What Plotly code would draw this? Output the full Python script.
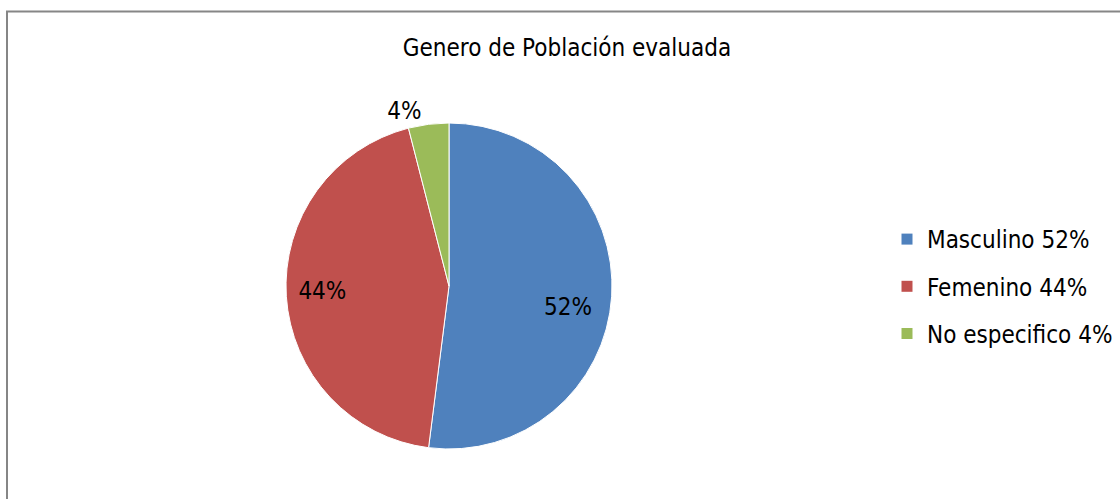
import plotly.graph_objects as go

categories = ["Masculino", "Femenino", "No especifico"]
values = [52, 44, 4]
legend_labels = ["Masculino 52%", "Femenino 44%", "No especifico 4%"]
colors = ["#4F81BD", "#C0504D", "#9BBB59"]

W, H = 1120, 499
FONT = "Liberation Sans Narrow, Arial Narrow, DejaVu Sans Condensed, sans-serif"

cx, cy, r = 449, 286, 163
NB = "\u00a0"
label_templates = [
    NB + "<br>" + NB * 11 + "%{percent:.0%}",
    "%{percent:.0%}" + NB * 13,
    "%{percent:.0%}",
]

fig = go.Figure()
fig.add_trace(go.Pie(
    labels=categories,
    values=values,
    sort=False,
    direction="clockwise",
    rotation=0,
    marker=dict(colors=colors, line=dict(color="white", width=1)),
    texttemplate=label_templates,
    textposition=["inside", "inside", "outside"],
    insidetextorientation="horizontal",
    textfont=dict(family=FONT, size=24, color="black"),
    outsidetextfont=dict(family=FONT, size=24, color="black"),
    insidetextfont=dict(family=FONT, size=24, color="black"),
    showlegend=False,
    hoverinfo="label+percent",
    domain=dict(x=[(cx - r) / W, (cx + r) / W], y=[(H - cy - r) / H, (H - cy + r) / H]),
))

for name, col in zip(legend_labels, colors):
    fig.add_trace(go.Scatter(
        x=[None], y=[None], mode="markers", name=name, legendgroup=name,
        marker=dict(symbol="square", size=11, color=col),
        showlegend=True,
    ))

fig.update_layout(
    width=W, height=H,
    margin=dict(l=0, r=0, t=0, b=0),
    paper_bgcolor="white",
    plot_bgcolor="white",
    xaxis=dict(visible=False),
    yaxis=dict(visible=False),
    title=dict(text="Genero de Población evaluada", x=567 / W, xanchor="center",
               y=1 - 48 / H, yanchor="middle",
               font=dict(family=FONT, size=24, color="black")),
    legend=dict(x=887 / W, xanchor="left", y=1 - 217 / H, yanchor="top",
                font=dict(family=FONT, size=24, color="black"),
                tracegroupgap=13, bgcolor="rgba(0,0,0,0)"),
    shapes=[dict(type="rect", xref="paper", yref="paper",
                 x0=7 / W, x1=1.05, y0=-0.05, y1=1 - 11.5 / H,
                 line=dict(color="#868686", width=2))],
)

fig.write_html("out.html", config={"displayModeBar": False},
               post_script="document.body.style.margin='0';")
